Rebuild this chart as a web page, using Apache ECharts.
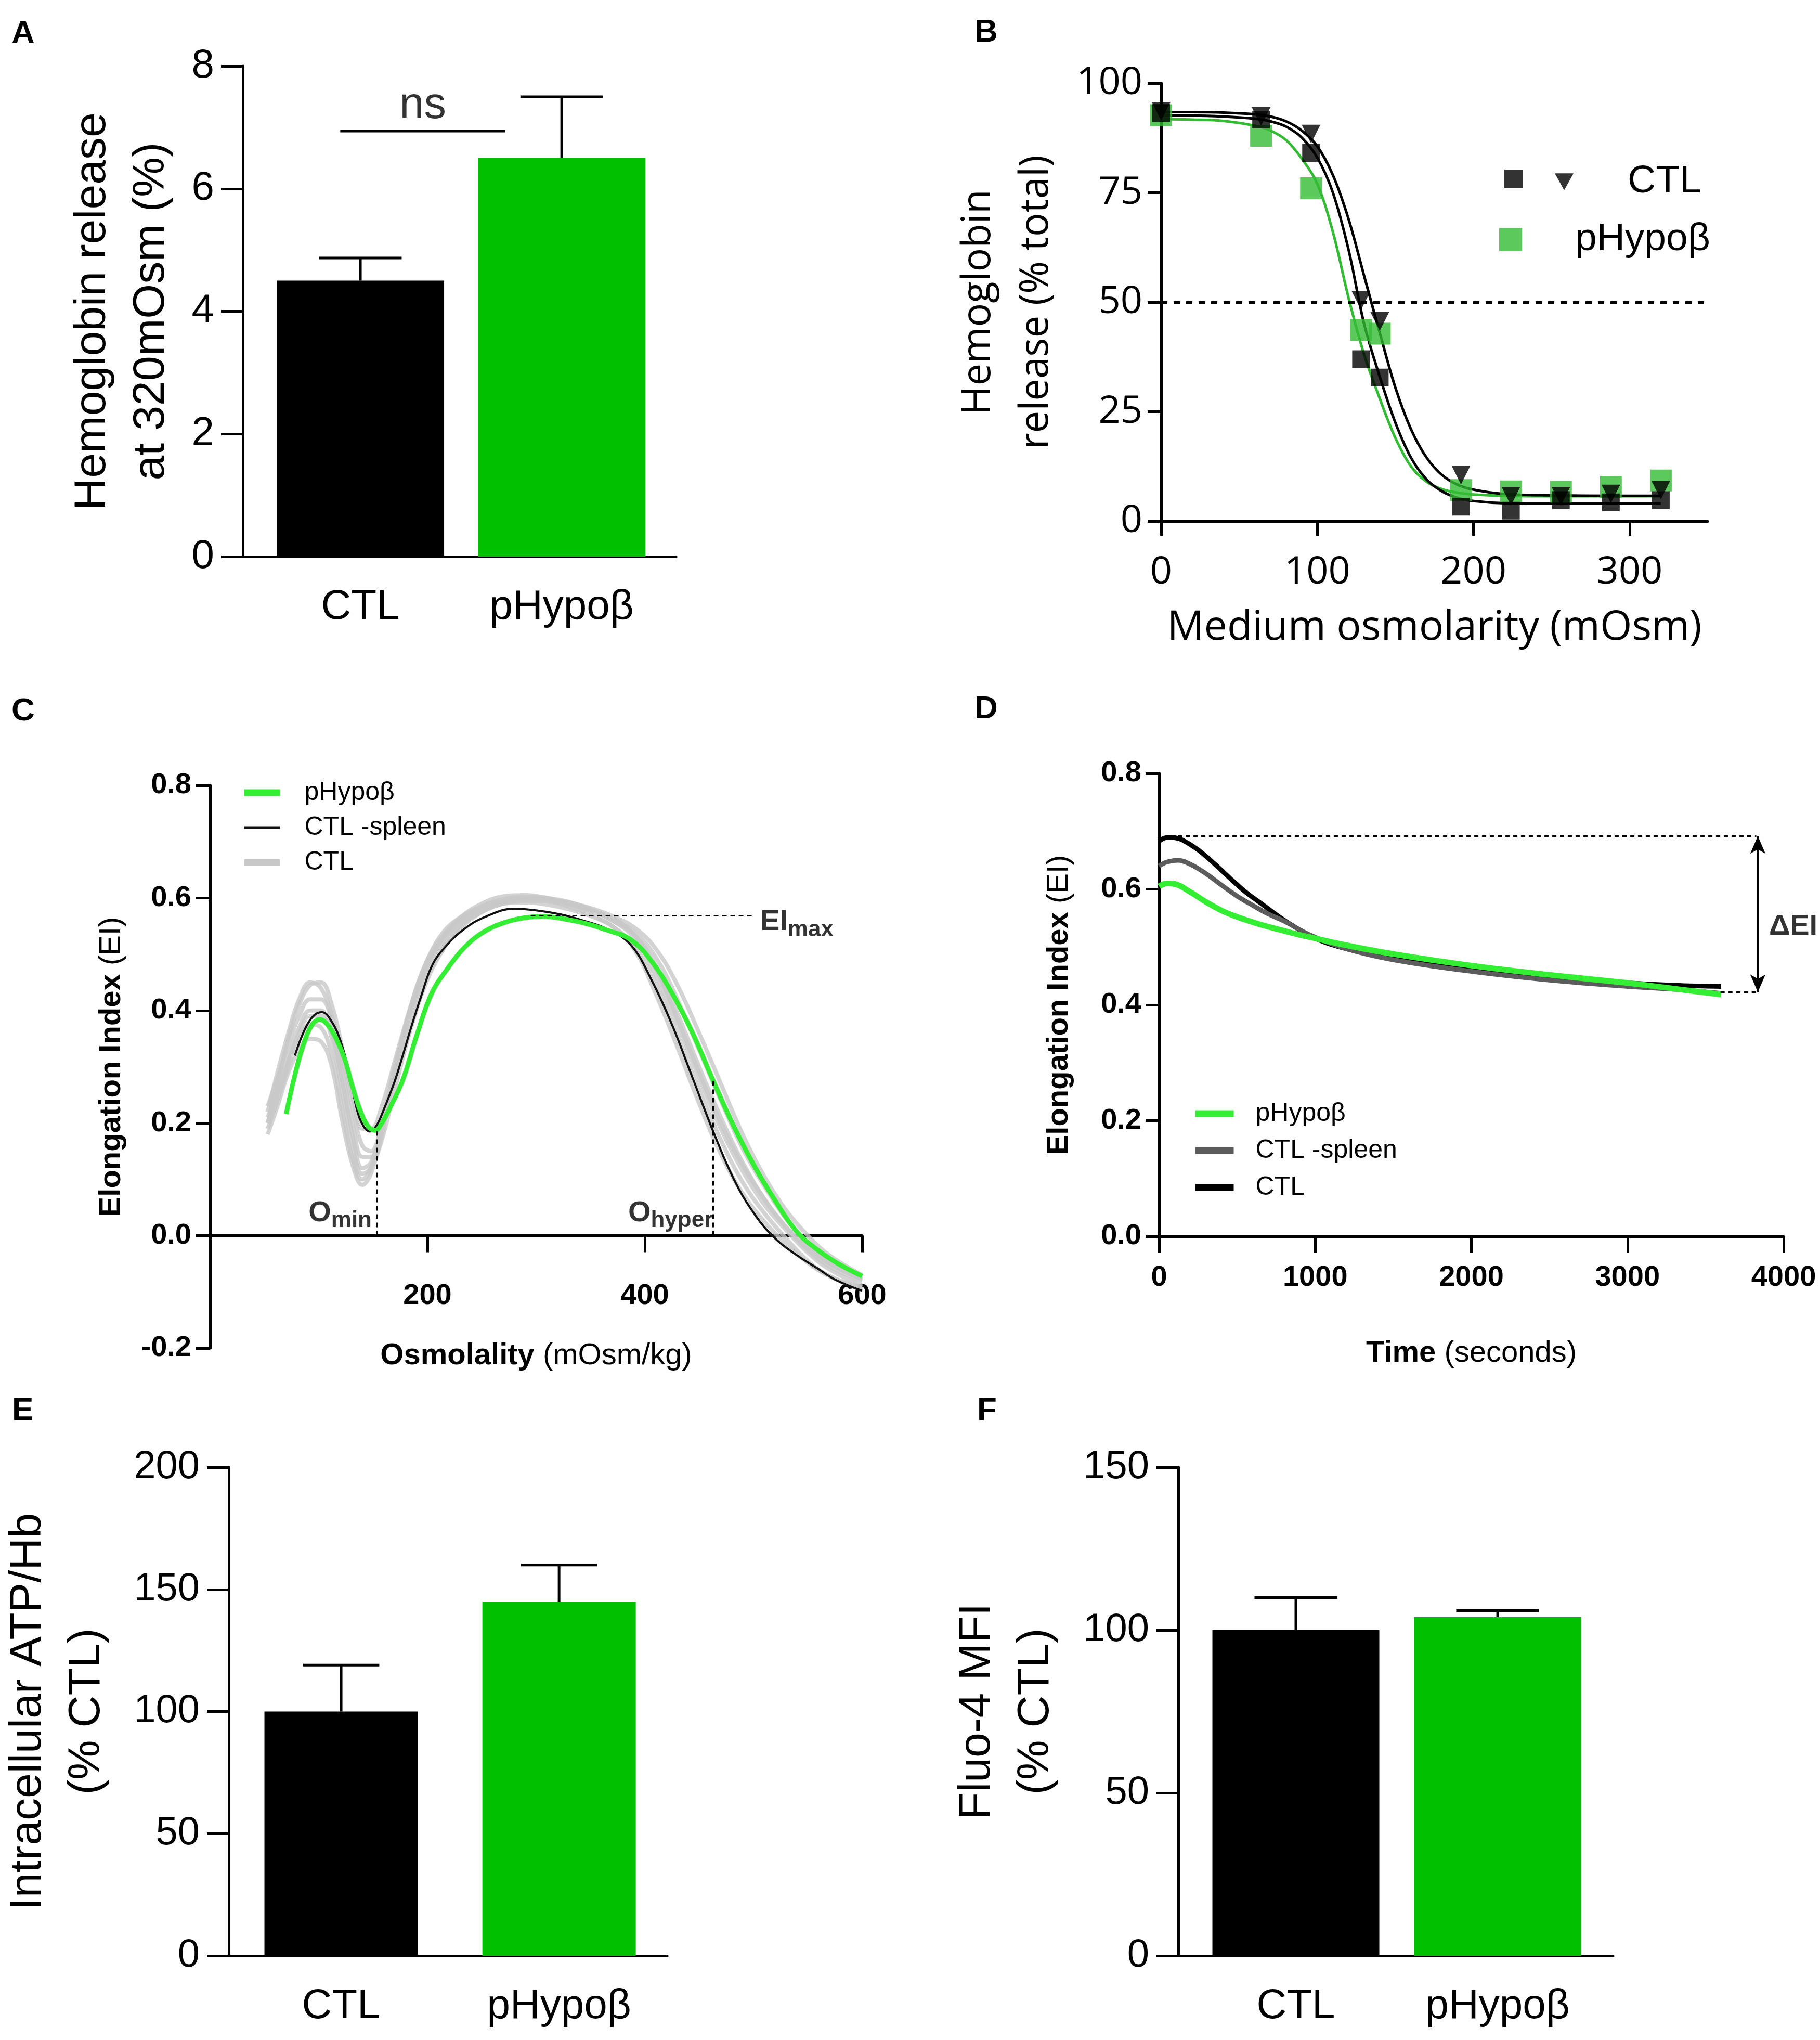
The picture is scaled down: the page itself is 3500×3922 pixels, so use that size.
<!DOCTYPE html>
<html><head><meta charset="utf-8">
<script src="https://cdn.jsdelivr.net/npm/echarts@6.0.0/dist/echarts.min.js"></script>
<style>
html,body{margin:0;padding:0;background:#fff;}
body{width:3500px;height:3922px;position:relative;overflow:hidden;}
.p{position:absolute;}
</style>
</head><body>
<div id="pA" class="p" style="left:0;top:0;width:1750px;height:1300px"></div>
<div id="pB" class="p" style="left:1750px;top:0;width:1750px;height:1300px"></div>
<div id="pC" class="p" style="left:0;top:1300px;width:1750px;height:1350px"></div>
<div id="pD" class="p" style="left:1750px;top:1300px;width:1750px;height:1350px"></div>
<div id="pE" class="p" style="left:0;top:2650px;width:1750px;height:1272px"></div>
<div id="pF" class="p" style="left:1750px;top:2650px;width:1750px;height:1272px"></div>
<script>
// ---------------- DATA ----------------
const barCategories = ['CTL', 'pHypoβ'];
// Panel A
const hbReleaseMean = [4.5, 6.5];
const hbReleaseUpper = [4.87, 7.5];
// Panel E
const atpMean = [100, 145];
const atpUpper = [119, 160];
// Panel F
const fluoMean = [100, 104];
const fluoUpper = [110, 106];
// Panel B
const osmPoints = [0, 64, 96, 128, 140, 192, 224, 256, 288, 320];
const ctlSquares = [93.2, 91.7, 84.1, 37.0, 32.8, 3.3, 2.4, 4.8, 4.3, 4.8];
const ctlTriangles = [93.6, 92.4, 88.4, 50.4, 45.6, 10.5, 5.7, 5.7, 6.2, 7.1];
const pHypoSquares = [92.7, 88.0, 76.0, 43.7, 42.8, 7.1, 6.8, 6.7, 7.8, 9.3];
const fitX = [0, 20, 40, 60, 70, 80, 90, 100, 110, 120, 130, 140, 150, 160, 170, 180, 190, 200, 220, 250, 290, 320];
const fitCtlTri = [93.4, 93.4, 93.3, 92.9, 92.4, 91.3, 89.2, 85.6, 79.0, 69.0, 56.0, 43.0, 30.5, 21.0, 14.5, 10.5, 8.3, 7.2, 6.2, 5.9, 5.8, 5.8];
const fitCtlSq = [92.6, 92.6, 92.4, 91.9, 91.3, 90.1, 87.6, 83.0, 75.0, 62.0, 45.0, 33.0, 22.5, 14.5, 9.5, 6.8, 5.3, 4.6, 4.1, 4.0, 4.0, 4.0];
const fitPHypo = [91.8, 91.7, 91.4, 90.3, 89.2, 87.0, 82.8, 77.0, 66.0, 51.0, 38.0, 28.0, 19.0, 12.5, 9.0, 7.3, 6.5, 6.1, 5.8, 5.7, 5.7, 5.7];
const bTicksX = [0, 100, 200, 300];
// Panel C
const cPHypoX = [70,78,86,94,101,108,116,124,131,139,146,152,158,165,177,190,204,219,234,252,272,290,307,325,345,365,387,406,425,444,463,482,501,520,539,558,578,600];
const cPHypoY = [0.216,0.285,0.34,0.375,0.384,0.375,0.35,0.313,0.265,0.218,0.193,0.187,0.2,0.225,0.275,0.355,0.431,0.476,0.512,0.54,0.557,0.565,0.567,0.563,0.555,0.543,0.526,0.488,0.431,0.36,0.275,0.194,0.123,0.062,0.009,-0.024,-0.05,-0.072];
const cSpleenX = [78,88,96,103,112,120,128,135,141,147,153,160,170,177,185,195,204,215,234,255,280,300,322,343,365,387,406,425,444,463,482,501,520,540,558,575,600];
const cSpleenY = [0.32,0.37,0.392,0.397,0.38,0.346,0.29,0.225,0.195,0.185,0.195,0.225,0.275,0.318,0.37,0.43,0.479,0.51,0.545,0.568,0.581,0.578,0.571,0.56,0.545,0.517,0.455,0.375,0.28,0.185,0.10,0.038,-0.005,-0.035,-0.057,-0.078,-0.098];
const cCtlX = [53,62,72,82,92,102,112,122,132,140,148,158,170,185,200,215,230,250,270,290,310,330,350,370,390,410,430,450,470,490,510,530,550,570,600];
const cCtl1 = [0.20,0.27,0.35,0.41,0.445,0.45,0.41,0.33,0.24,0.19,0.19,0.23,0.31,0.41,0.49,0.535,0.565,0.59,0.603,0.605,0.60,0.59,0.578,0.565,0.535,0.475,0.385,0.29,0.20,0.125,0.065,0.015,-0.02,-0.05,-0.075];
const cCtl2 = [0.19,0.24,0.30,0.35,0.375,0.37,0.32,0.22,0.13,0.10,0.12,0.19,0.29,0.40,0.48,0.53,0.56,0.58,0.59,0.592,0.588,0.58,0.568,0.55,0.515,0.45,0.355,0.26,0.17,0.095,0.04,-0.005,-0.045,-0.072,-0.095];
const cCtl3 = [0.23,0.28,0.34,0.39,0.42,0.42,0.38,0.29,0.19,0.14,0.14,0.20,0.30,0.40,0.475,0.525,0.555,0.58,0.595,0.60,0.598,0.59,0.578,0.56,0.535,0.48,0.395,0.30,0.21,0.13,0.065,0.015,-0.025,-0.055,-0.08];
const cCtl4 = [0.21,0.26,0.32,0.37,0.40,0.40,0.36,0.27,0.17,0.12,0.13,0.19,0.28,0.38,0.46,0.515,0.55,0.575,0.59,0.597,0.597,0.592,0.582,0.568,0.548,0.51,0.445,0.36,0.27,0.18,0.105,0.045,0.0,-0.035,-0.07];
const cCtl5 = [0.22,0.29,0.36,0.42,0.45,0.44,0.39,0.31,0.22,0.16,0.15,0.20,0.30,0.405,0.485,0.53,0.56,0.585,0.598,0.602,0.60,0.593,0.58,0.56,0.53,0.465,0.375,0.28,0.19,0.115,0.055,0.01,-0.03,-0.06,-0.088];
const cCtl6 = [0.20,0.25,0.31,0.36,0.39,0.39,0.35,0.25,0.15,0.11,0.12,0.17,0.26,0.37,0.455,0.51,0.545,0.575,0.59,0.595,0.594,0.588,0.577,0.562,0.54,0.495,0.42,0.33,0.24,0.155,0.088,0.03,-0.015,-0.048,-0.078];
const cCtl7 = [0.18,0.23,0.29,0.33,0.35,0.345,0.30,0.20,0.12,0.09,0.11,0.18,0.29,0.41,0.49,0.54,0.565,0.585,0.595,0.598,0.595,0.585,0.57,0.55,0.51,0.43,0.335,0.235,0.145,0.075,0.025,-0.015,-0.048,-0.072,-0.092];
const cTicksX = [200, 400, 600];
const cEImax = 0.569;
const cOmin = 153;
const cOminEI = 0.187;
const cOhyper = 463;
const cOhyperEI = 0.275;
// Panel D
const dTimeCtl = [0,30,60,100,150,250,350,450,550,650,750,850,1000,1200,1500,2000,2500,3000,3300,3600];
const dCtl = [0.683,0.688,0.690,0.689,0.685,0.668,0.645,0.620,0.596,0.576,0.556,0.538,0.515,0.497,0.480,0.462,0.447,0.438,0.434,0.432];
const dTimeSpleen = [0,50,120,200,300,400,500,600,700,800,900,1000,1200,1500,2000,2500,3000,3300,3600];
const dSpleen = [0.640,0.647,0.650,0.643,0.627,0.607,0.588,0.572,0.557,0.545,0.530,0.517,0.497,0.478,0.458,0.443,0.432,0.427,0.420];
const dTimePHypo = [0,50,100,200,300,400,500,600,700,800,900,1000,1200,1500,2000,2500,3000,3300,3600];
const dPHypo = [0.605,0.610,0.609,0.595,0.578,0.563,0.552,0.543,0.535,0.528,0.521,0.515,0.503,0.488,0.468,0.452,0.438,0.428,0.418];
const dEIHigh = 0.692;
const dEILow = 0.422;

// ---------------- STYLE ----------------
const SANS = "'Liberation Sans', Arial, Helvetica, sans-serif";
const OPEN = "'Open Sans', 'Liberation Sans', sans-serif";
const BLACK = '#000000';
const GREEN_BAR = '#00c000';
const GREEN_B = '#33bb33';
const GREEN_LINE = '#33ee33';
const GRAY_C = '#c8c8c8';
const GRAY_D = '#5c5c5c';
const zip = (xs, ys) => xs.map((x, i) => [x, ys[i]]);

function letterTitle(t, left, top) {
  return {text: t, left: left, top: top, textStyle: {fontSize: 62, fontWeight: 'bold', color: BLACK, fontFamily: SANS}};
}

function errorBarRender(capUnits) {
  return function (params, api) {
    const x = api.value(0), y = api.value(1), top = api.value(2);
    const p0 = api.coord([x, y]), p1 = api.coord([x, top]);
    const half = api.size([capUnits, 0])[0] / 2;
    const st = {stroke: BLACK, lineWidth: 5};
    return {type: 'group', children: [
      {type: 'line', shape: {x1: p0[0], y1: p0[1], x2: p1[0], y2: p1[1]}, style: st},
      {type: 'line', shape: {x1: p1[0] - half, y1: p1[1], x2: p1[0] + half, y2: p1[1]}, style: st}
    ]};
  };
}

function barOption(o) {
  const series = [
    {type: 'bar', barWidth: o.barWidth, z: 2,
     data: o.means.map((v, i) => ({value: [i + 1, v], itemStyle: {color: i === 0 ? BLACK : GREEN_BAR}}))},
    {type: 'custom', z: 3, renderItem: errorBarRender(o.cap), data: o.means.map((v, i) => [i + 1, v, o.upper[i]])}
  ];
  if (o.extra) o.extra.forEach(s => series.push(s));
  return {
    animation: false,
    textStyle: {fontFamily: SANS},
    title: letterTitle(o.letter, o.letterLeft, o.letterTop),
    grid: {left: o.left, top: o.top, width: o.width, height: o.height, outerBoundsMode: 'none', containLabel: false},
    xAxis: {type: 'value', min: o.xmin, max: o.xmax,
      axisLine: {show: true, onZero: false, lineStyle: {color: BLACK, width: 5}},
      axisTick: {show: false}, splitLine: {show: false},
      axisLabel: {customValues: [1, 2], formatter: v => (v === 1 ? barCategories[0] : v === 2 ? barCategories[1] : ''),
        fontSize: o.catFont, color: BLACK, margin: o.catMargin, fontFamily: SANS}},
    yAxis: {type: 'value', min: 0, max: o.ymax, interval: o.yint,
      name: o.yname, nameLocation: 'middle', nameGap: o.nameGap,
      nameTextStyle: {fontSize: 86, lineHeight: 113, color: BLACK, align: 'center', fontFamily: SANS},
      axisLine: {show: true, lineStyle: {color: BLACK, width: 5}},
      axisTick: {show: true, length: 42, lineStyle: {color: BLACK, width: 5}},
      axisLabel: {fontSize: o.tickFont, color: BLACK, margin: o.tickMargin, fontFamily: SANS},
      splitLine: {show: false}},
    series: series
  };
}

// ---------------- PANEL A ----------------
const chartA = echarts.init(document.getElementById('pA'));
chartA.setOption(barOption({
  letter: 'A', letterLeft: 17, letterTop: 30,
  left: 467, top: 127, width: 833, height: 943,
  xmin: 0.416, xmax: 2.568, barWidth: 322, cap: 0.41,
  means: hbReleaseMean, upper: hbReleaseUpper,
  ymax: 8, yint: 2, yname: 'Hemoglobin release\nat 320mOsm (%)', nameGap: 119,
  tickFont: 78, tickMargin: 55, catFont: 80, catMargin: 58,
  extra: [
    {type: 'line', data: [[0.9, 6.94], [1.72, 6.94]], symbol: 'none', lineStyle: {color: BLACK, width: 5}, z: 4},
    {type: 'scatter', data: [[1.31, 7.35]], symbolSize: 1, itemStyle: {color: 'rgba(0,0,0,0)'},
     label: {show: true, position: 'inside', formatter: 'ns', fontSize: 85, color: BLACK, fontFamily: SANS}}
  ]
}));

// ---------------- PANEL E ----------------
const chartE = echarts.init(document.getElementById('pE'));
chartE.setOption(barOption({
  letter: 'E', letterLeft: 18, letterTop: 27,
  left: 440, top: 171, width: 843, height: 939,
  xmin: 0.4845, xmax: 2.496, barWidth: 295, cap: 0.35,
  means: atpMean, upper: atpUpper,
  ymax: 200, yint: 50, yname: 'Intracellular ATP/Hb\n(% CTL)', nameGap: 216,
  tickFont: 76, tickMargin: 56, catFont: 80, catMargin: 58
}));

// ---------------- PANEL F ----------------
const chartF = echarts.init(document.getElementById('pF'));
chartF.setOption(barOption({
  letter: 'F', letterLeft: 124, letterTop: 27,
  left: 516, top: 171, width: 836, height: 939,
  xmin: 0.4175, xmax: 2.572, barWidth: 321, cap: 0.41,
  means: fluoMean, upper: fluoUpper,
  ymax: 150, yint: 50, yname: 'Fluo-4 MFI\n(% CTL)', nameGap: 217,
  tickFont: 76, tickMargin: 56, catFont: 80, catMargin: 58
}));

// ---------------- PANEL B ----------------
const triPath = 'path://M0,0L10,0L5,9Z';
const chartB = echarts.init(document.getElementById('pB'));
chartB.setOption({
  animation: false,
  textStyle: {fontFamily: SANS},
  title: letterTitle('B', 119, 27),
  grid: {left: 483, top: 160, width: 1051, height: 842, outerBoundsMode: 'none', containLabel: false},
  legend: [
    {data: ['CTL-sq'], left: 1138, top: 321, itemWidth: 35, itemHeight: 35, selectedMode: false,
     formatter: () => '', textStyle: {fontSize: 75}},
    {data: ['CTL'], left: 1235, top: 307, itemWidth: 36, itemHeight: 36, selectedMode: false,
     textStyle: {fontSize: 75, color: BLACK, fontFamily: SANS, padding: [0, 0, 0, 99]}},
    {data: ['pHypoβ'], left: 1128, top: 418, itemWidth: 44, itemHeight: 44, selectedMode: false,
     textStyle: {fontSize: 75, color: BLACK, fontFamily: SANS, padding: [0, 0, 0, 97]}}
  ],
  xAxis: {type: 'value', min: 0, max: 350, interval: 100,
    name: 'Medium osmolarity (mOsm)', nameLocation: 'middle', nameGap: 166,
    nameTextStyle: {fontSize: 79, color: BLACK, fontFamily: OPEN},
    axisLine: {onZero: false, lineStyle: {color: BLACK, width: 5}},
    axisTick: {show: true, customValues: bTicksX, length: 28, lineStyle: {color: BLACK, width: 5}},
    axisLabel: {customValues: bTicksX, fontSize: 74, color: BLACK, margin: 62, fontFamily: OPEN},
    splitLine: {show: false}},
  yAxis: {type: 'value', min: 0, max: 100, interval: 25,
    name: 'Hemoglobin\nrelease (% total)', nameLocation: 'middle', nameGap: 184,
    nameTextStyle: {fontSize: 76, lineHeight: 111, color: BLACK, align: 'center', fontFamily: OPEN},
    axisLine: {show: true, lineStyle: {color: BLACK, width: 5}},
    axisTick: {show: true, length: 26, lineStyle: {color: BLACK, width: 5}},
    axisLabel: {fontSize: 74, color: BLACK, margin: 36, fontFamily: OPEN},
    splitLine: {show: false}},
  series: [
    {name: 'fitPHypo', type: 'line', smooth: 0.35, symbol: 'none', data: zip(fitX, fitPHypo), lineStyle: {color: GREEN_B, width: 5}, z: 2,
     markLine: {silent: true, symbol: 'none', label: {show: false}, lineStyle: {color: BLACK, width: 5, type: [12, 12]},
       data: [[{coord: [0, 50]}, {coord: [350, 50]}]]}},
    {name: 'fitTri', type: 'line', smooth: 0.35, symbol: 'none', data: zip(fitX, fitCtlTri), lineStyle: {color: BLACK, width: 5}, z: 2},
    {name: 'fitSq', type: 'line', smooth: 0.35, symbol: 'none', data: zip(fitX, fitCtlSq), lineStyle: {color: BLACK, width: 5}, z: 2},
    {name: 'pHypoβ', type: 'scatter', symbol: 'rect', symbolSize: 42, data: zip(osmPoints, pHypoSquares), itemStyle: {color: GREEN_B}, z: 3},
    {name: 'CTL-sq', type: 'scatter', symbol: 'rect', symbolSize: 34, data: zip(osmPoints, ctlSquares), itemStyle: {color: BLACK}, z: 4},
    {name: 'CTL', type: 'scatter', symbol: triPath, symbolSize: 36, data: zip(osmPoints, ctlTriangles), itemStyle: {color: BLACK}, z: 4}
  ]
});

// ---------------- PANEL C ----------------
const subRich = {
  o: {fontSize: 56, fontWeight: 'bold', color: BLACK, fontFamily: SANS},
  s: {fontSize: 44, fontWeight: 'bold', color: BLACK, fontFamily: SANS, padding: [30, 0, 0, 0]}
};
const eiRich = {
  b: {fontSize: 58, fontWeight: 'bold', color: BLACK, fontFamily: SANS},
  n: {fontSize: 58, color: BLACK, fontFamily: SANS}
};
const grayLines = [cCtl1, cCtl2, cCtl3, cCtl4, cCtl5, cCtl6, cCtl7].map(arr => ({
  name: 'CTL', type: 'line', smooth: 0.4, symbol: 'none', data: zip(cCtlX, arr),
  itemStyle: {color: GRAY_C},
  lineStyle: {color: GRAY_C, width: 8, opacity: 0.8}, z: 1
}));
const chartC = echarts.init(document.getElementById('pC'));
chartC.setOption({
  animation: false,
  textStyle: {fontFamily: SANS},
  title: letterTitle('C', 17, 32),
  grid: {left: 404, top: 210, width: 1254, height: 1082, outerBoundsMode: 'none', containLabel: false},
  legend: {orient: 'vertical', left: 458, top: 194, itemWidth: 69, itemHeight: 14,
    itemGap: 17, selectedMode: false, itemStyle: {opacity: 0},
    data: [
      {name: 'pHypoβ', lineStyle: {width: 13, color: GREEN_LINE}},
      {name: 'CTL -spleen', lineStyle: {width: 5, color: '#111111'}},
      {name: 'CTL', lineStyle: {width: 12, color: GRAY_C, opacity: 1}}
    ],
    textStyle: {fontSize: 50, lineHeight: 50, color: BLACK, fontFamily: SANS, padding: [0, 0, 0, 42]}},
  xAxis: {type: 'value', min: 0, max: 600, interval: 200,
    name: '{b|Osmolality} {n|(mOsm/kg)}', nameLocation: 'middle', nameGap: -14,
    nameTextStyle: {fontSize: 58, rich: eiRich, verticalAlign: 'top'},
    axisLine: {onZero: true, lineStyle: {color: BLACK, width: 5}},
    axisTick: {show: true, customValues: cTicksX, length: 32, lineStyle: {color: BLACK, width: 5}},
    axisLabel: {customValues: cTicksX, fontSize: 56, fontWeight: 'bold', color: BLACK, margin: -128, fontFamily: SANS},
    splitLine: {show: false}},
  yAxis: {type: 'value', min: -0.2, max: 0.8, interval: 0.2,
    name: '{b|Elongation Index} {n|(EI)}', nameLocation: 'middle', nameGap: 160,
    nameTextStyle: {fontSize: 58, rich: eiRich},
    axisLine: {show: true, lineStyle: {color: BLACK, width: 5}},
    axisTick: {show: true, length: 28, lineStyle: {color: BLACK, width: 5}},
    axisLabel: {fontSize: 56, fontWeight: 'bold', color: BLACK, margin: 36, fontFamily: SANS,
      formatter: v => (Math.abs(v) < 1e-9 ? 0 : v).toFixed(1)},
    splitLine: {show: false}},
  series: grayLines.concat([
    {name: 'CTL -spleen', type: 'line', smooth: 0.4, symbol: 'none', data: zip(cSpleenX, cSpleenY),
     itemStyle: {color: '#111111'}, lineStyle: {color: '#111111', width: 4}, z: 2},
    {name: 'pHypoβ', type: 'line', smooth: 0.4, symbol: 'none', data: zip(cPHypoX, cPHypoY),
     itemStyle: {color: GREEN_LINE}, lineStyle: {color: GREEN_LINE, width: 9}, z: 3},
    {name: 'annot', type: 'scatter', symbolSize: 1, itemStyle: {color: 'rgba(0,0,0,0)'}, z: 4,
     data: [
       {value: [cOmin - 3, 0.04], label: {show: true, position: 'left', distance: 2, formatter: '{o|O}{s|min}', rich: subRich}},
       {value: [cOhyper + 1, 0.04], label: {show: true, position: 'left', distance: 2, formatter: '{o|O}{s|hyper}', rich: subRich}},
       {value: [505, cEImax - 0.012], label: {show: true, position: 'right', distance: 2, formatter: '{o|EI}{s|max}', rich: subRich}}
     ],
     markLine: {silent: true, symbol: 'none', label: {show: false}, lineStyle: {color: BLACK, width: 3, type: [9, 7]},
       data: [
         [{coord: [295, cEImax]}, {coord: [499, cEImax]}],
         [{coord: [cOmin, 0]}, {coord: [cOmin, cOminEI]}],
         [{coord: [cOhyper, 0]}, {coord: [cOhyper, cOhyperEI]}]
       ]}}
  ])
});

// ---------------- PANEL D ----------------
const chartD = echarts.init(document.getElementById('pD'));
chartD.setOption({
  animation: false,
  textStyle: {fontFamily: SANS},
  title: letterTitle('D', 119, 28),
  grid: {left: 479, top: 187, width: 1201, height: 890, outerBoundsMode: 'none', containLabel: false},
  legend: {orient: 'vertical', left: 537, top: 811, itemWidth: 74, itemHeight: 14,
    itemGap: 21, selectedMode: false, itemStyle: {opacity: 0},
    data: [
      {name: 'pHypoβ', lineStyle: {width: 13, color: GREEN_LINE}},
      {name: 'CTL -spleen', lineStyle: {width: 13, color: GRAY_D}},
      {name: 'CTL', lineStyle: {width: 13, color: BLACK}}
    ],
    textStyle: {fontSize: 50, lineHeight: 50, color: BLACK, fontFamily: SANS, padding: [0, 0, 0, 37]}},
  xAxis: {type: 'value', min: 0, max: 4000, interval: 1000,
    name: '{b|Time} {n|(seconds)}', nameLocation: 'middle', nameGap: 196,
    nameTextStyle: {fontSize: 58, rich: eiRich},
    axisLine: {onZero: false, lineStyle: {color: BLACK, width: 5}},
    axisTick: {show: true, length: 31, lineStyle: {color: BLACK, width: 5}},
    axisLabel: {fontSize: 56, fontWeight: 'bold', color: BLACK, margin: 52, fontFamily: SANS,
      formatter: v => String(v)},
    splitLine: {show: false}},
  yAxis: {type: 'value', min: 0, max: 0.8, interval: 0.2,
    name: '{b|Elongation Index} {n|(EI)}', nameLocation: 'middle', nameGap: 163,
    nameTextStyle: {fontSize: 58, rich: eiRich},
    axisLine: {show: true, lineStyle: {color: BLACK, width: 5}},
    axisTick: {show: true, length: 26, lineStyle: {color: BLACK, width: 5}},
    axisLabel: {fontSize: 56, fontWeight: 'bold', color: BLACK, margin: 34, fontFamily: SANS,
      formatter: v => v.toFixed(1)},
    splitLine: {show: false}},
  series: [
    {name: 'CTL', type: 'line', smooth: 0.4, symbol: 'none', data: zip(dTimeCtl, dCtl),
     itemStyle: {color: BLACK}, lineStyle: {color: BLACK, width: 9}, z: 2},
    {name: 'CTL -spleen', type: 'line', smooth: 0.4, symbol: 'none', data: zip(dTimeSpleen, dSpleen),
     itemStyle: {color: GRAY_D}, lineStyle: {color: GRAY_D, width: 9}, z: 3},
    {name: 'pHypoβ', type: 'line', smooth: 0.4, symbol: 'none', data: zip(dTimePHypo, dPHypo),
     itemStyle: {color: GREEN_LINE}, lineStyle: {color: GREEN_LINE, width: 11}, z: 4},
    {name: 'annot', type: 'scatter', symbolSize: 1, itemStyle: {color: 'rgba(0,0,0,0)'}, z: 5, clip: false,
     data: [{value: [3905, 0.535], label: {show: true, position: 'right', distance: 0, formatter: 'ΔEI', fontSize: 56, fontWeight: 'bold', color: BLACK, fontFamily: SANS}}],
     markLine: {silent: true, symbol: 'none', label: {show: false}, lineStyle: {color: BLACK, width: 3, type: [8, 7]},
       data: [
         [{coord: [120, dEIHigh]}, {coord: [3825, dEIHigh]}],
         [{coord: [3596, dEILow]}, {coord: [3825, dEILow]}]
       ]}},
    {name: 'arrow', type: 'scatter', data: [], symbolSize: 0,
     markLine: {silent: true, symbol: ['arrow', 'arrow'], symbolSize: [22, 34], label: {show: false}, lineStyle: {color: BLACK, width: 4, type: 'solid'},
       data: [[{coord: [3835, dEIHigh]}, {coord: [3835, dEILow]}]]}}
  ]
});
</script>
</body></html>
